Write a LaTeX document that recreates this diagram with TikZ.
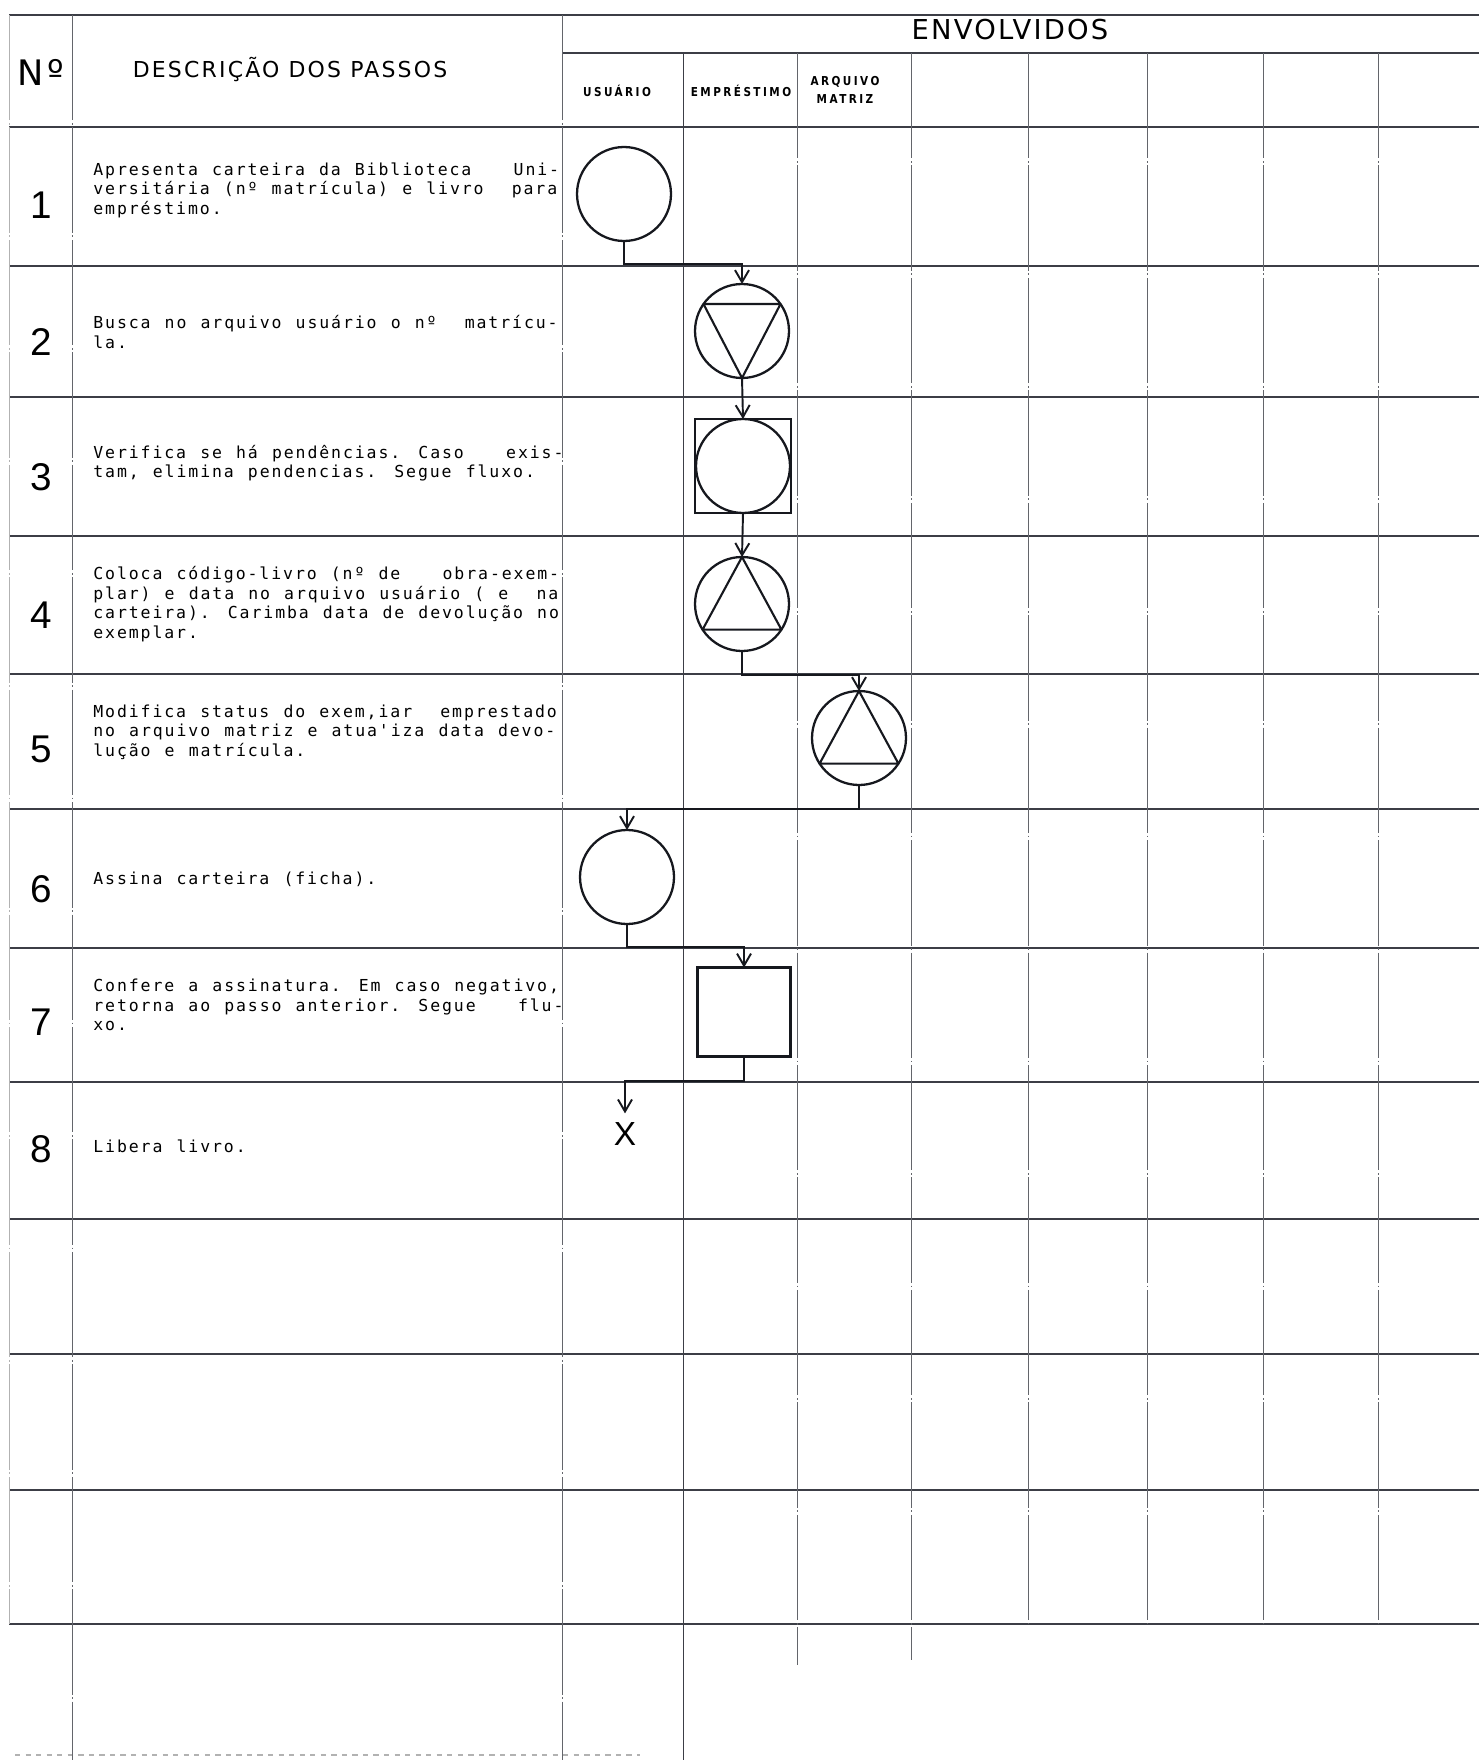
\documentclass[tikz,border=0pt]{standalone}
\usepackage{fontspec}
\usetikzlibrary{
    arrows.meta,
    positioning,
    calc
}
\newfontfamily\printfont[LetterSpace=11.5,WordSpace=1.19]{DejaVu Sans Mono}
\newfontfamily\letterfont[LetterSpace=10]{DejaVu Sans}
\newfontfamily\lanefont[FakeStretch=0.85,LetterSpace=20]{DejaVu Sans}
\newfontfamily\digitfont{Liberation Sans}
\definecolor{inkBlack}{RGB}{22,24,30}
\definecolor{gridGray}{RGB}{60,62,70}
\tikzset{
  rowline/.style = {gridGray, line width=0.85pt},
  colline/.style = {gridGray!80, line width=0.5pt,
                    dash pattern=on 60pt off 1.5pt on 1pt off 1.5pt},
  head/.style    = {inner sep=0pt, font=\letterfont\fontsize{12.5}{14}\selectfont},
  lane/.style    = {align=center, inner sep=0pt,
                    font=\lanefont\bfseries\fontsize{7}{10.6}\selectfont},
  stepno/.style  = {inner sep=0pt, font=\digitfont\fontsize{22}{22}\selectfont},
  desc/.style    = {anchor=west, align=left, inner sep=0pt,
                    font=\printfont\fontsize{9.4}{11.1}\selectfont},
  proc/.style    = {draw=inkBlack, circle, line width=1.3pt, minimum size=1.88cm,
                    inner sep=0pt, outer sep=0pt},
  chk/.style     = {draw=inkBlack, rectangle, line width=1.3pt, minimum width=1.92cm,
                    minimum height=1.88cm, inner sep=0pt, outer sep=0pt},
  tri/.style     = {draw=inkBlack, line width=1.2pt, line join=round},
  flow/.style    = {draw=inkBlack, line width=1.1pt,
                    -{Straight Barb[length=2.4mm,width=2.8mm]}}
}

\begin{document}
\begin{tikzpicture}[x=0.02cm, y=-0.02cm]
\useasboundingbox (0,0) rectangle (1479,1760);
% table
\draw[rowline] (9,15) -- (1479,15);
\draw[rowline] (562,53) -- (1479,53);
\foreach \y in {127,266,397,536,674,809,948,1082,1219,1354,1490,1624}
  \draw[rowline] (9,\y) -- (1479,\y);
\draw[rowline, gray!60, dashed] (15,1755) -- (640,1755);
\draw[colline, gray!60] (9,15) -- (9,1624);
\foreach \x in {72,562}
  \draw[colline] (\x,15) -- (\x,1760);
\draw[colline, gridGray, solid] (683,53) -- (683,1760);
\foreach \x/\e in {797/1665,911/1660,1028/1624,1147/1624,1263/1624,1378/1624}
  \draw[colline] (\x,53) -- (\x,\e);

% cabecalho
\node[inner sep=0pt, font=\letterfont\fontsize{20}{20}\selectfont] (hno) at (41,72) {Nº};
\node[head] (hdesc) at (290,70) {DESCRIÇÃO DOS PASSOS};
\node[head, font=\letterfont\addfontfeature{LetterSpace=8}\fontsize{15.6}{16}\selectfont] (henv) at (1010,30) {ENVOLVIDOS};
\node[lane] (lusu) at (617,91) {USUÁRIO};
\node[lane] (lemp) at (741,91) {EMPRÉSTIMO};
\node[lane] (larq) at (845,90) {ARQUIVO\\MATRIZ};

% passos
\foreach \n/\y in {1/205,2/342,3/477,4/615,5/749,6/889,7/1022,8/1149}
  \node[stepno] (n\n) at (41,\y) {\n};
\node[desc] (d1) at (93,190) {Apresenta carteira da Biblioteca~~~Uni-\\versitária (nº matrícula) e livro~~para\\empréstimo.};
\node[desc] (d2) at (93,332) {Busca no arquivo usuário o nº~~matrícu-\\la.};
\node[desc] (d3) at (93,463) {Verifica se há pendências. Caso~~~exis-\\tam, elimina pendencias. Segue fluxo.};
\node[desc] (d4) at (93,604) {Coloca código-livro (nº de~~~obra-exem-\\plar) e data no arquivo usuário ( e~~na\\carteira). Carimba data de devolução no\\exemplar.};
\node[desc] (d5) at (93,732) {Modifica status do exem,iar~~emprestado\\no arquivo matriz e atua'iza data devo-\\lução e matrícula.};
\node[desc] (d6) at (93,879) {Assina carteira (ficha).};
\node[desc] (d7) at (93,1005) {Confere a assinatura. Em caso negativo,\\retorna ao passo anterior. Segue~~~flu-\\xo.};
\node[desc] (d8) at (93,1146) {Libera livro.};

% fluxo
\node[proc] (c1) at (624,194) {};
\node[proc] (c2) at (742,331) {};
\draw[tri] (c2.145) -- (c2.35) -- (c2.270) -- cycle;
\node[chk] (s3) at (743,466) {};
\node[proc] (s3c) at (s3) {};
\node[proc] (c4) at (742,604) {};
\draw[tri] (c4.90) -- (c4.213) -- (c4.327) -- cycle;
\node[proc] (c5) at (859,738) {};
\draw[tri] (c5.90) -- (c5.213) -- (c5.327) -- cycle;
\node[proc] (c6) at (627,877) {};
\node[chk, minimum width=1.86cm, minimum height=1.78cm] (b7) at (744,1012) {};
\node[inner sep=5pt, font=\digitfont\fontsize{19}{19}\selectfont] (x8) at (625,1134) {X};

\coordinate (j1) at (0,264);
\coordinate (j4) at (0,675);
\coordinate (j5) at (0,809);
\coordinate (j6) at (0,947);
\coordinate (j7) at (0,1081);
\draw[flow] (c1.south) |- (c2.north |- j1) -- (c2.north);
\draw[flow] (c2.south) -- (s3.north);
\draw[flow] (s3.south) -- (c4.north);
\draw[flow] (c4.south) |- (c5.north |- j4) -- (c5.north);
\draw[flow] (c5.south) |- (c6.north |- j5) -- (c6.north);
\draw[flow] (c6.south) |- (b7.north |- j6) -- (b7.north);
\draw[flow] (b7.south) |- (x8.north |- j7) -- (x8.north);
\end{tikzpicture}
\end{document}
